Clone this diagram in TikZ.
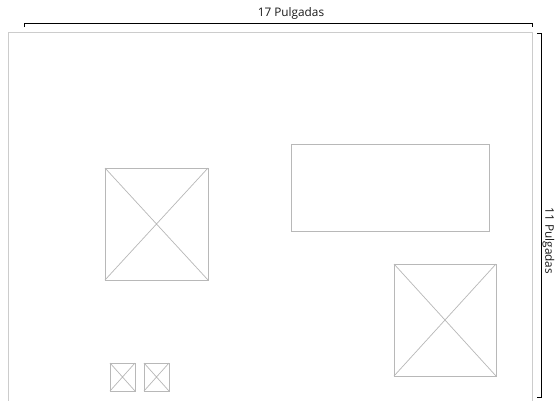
\documentclass[tikz,border=0pt]{standalone}
\usepackage{fontspec}
\setmainfont{Open Sans}
\begin{document}
\begin{tikzpicture}[x=1pt,y=-1pt,
  sheet/.style={draw=black!20, line width=0.9pt, fill=white},
  part/.style={draw=black!28, line width=0.8pt, fill=white, inner sep=0pt, outer sep=0pt, anchor=north west},
  diag/.style={draw=black!28, line width=0.7pt},
  dim/.style={draw=black, line width=1pt},
  dimtext/.style={font=\fontsize{11.8}{13}\selectfont, text=black!90, inner sep=0pt}]
\useasboundingbox (0,0) rectangle (555,400);
\clip (0,0) rectangle (555,400);
% sheet
\node[sheet, anchor=north west, minimum width=524pt, minimum height=380pt, inner sep=0pt] (sheet) at (8,32) {};
% top dimension
\coordinate (tl) at (24,27);
\coordinate (tla) at (24,23);
\coordinate (tra) at (532,23);
\coordinate (tr) at (532,27);
\draw[dim] (tl) -- (tla) -- (tra) -- (tr);
\node[dimtext] (toplabel) at (291,13) {17 Pulgadas};
% right dimension
\coordinate (rt) at (537,33);
\coordinate (rta) at (541,33);
\coordinate (rba) at (541,397);
\coordinate (rb) at (537,397);
\draw[dim] (rt) -- (rta) -- (rba) -- (rb);
\node[dimtext, rotate=-90] (sidelabel) at (548.5,241) {11 Pulgadas};
% parts
\node[part, minimum width=103pt, minimum height=112pt] (bigL) at (105,168) {};
\draw[diag] (bigL.north west) -- (bigL.south east) (bigL.north east) -- (bigL.south west);
\node[part, minimum width=198pt, minimum height=87pt] (rect) at (291,144) {};
\node[part, minimum width=102pt, minimum height=112pt] (bigR) at (394,264) {};
\draw[diag] (bigR.north west) -- (bigR.south east) (bigR.north east) -- (bigR.south west);
\node[part, minimum width=25pt, minimum height=28pt] (s1) at (110,363) {};
\draw[diag] (s1.north west) -- (s1.south east) (s1.north east) -- (s1.south west);
\node[part, minimum width=25pt, minimum height=28pt] (s2) at (144,363) {};
\draw[diag] (s2.north west) -- (s2.south east) (s2.north east) -- (s2.south west);
\end{tikzpicture}
\end{document}
